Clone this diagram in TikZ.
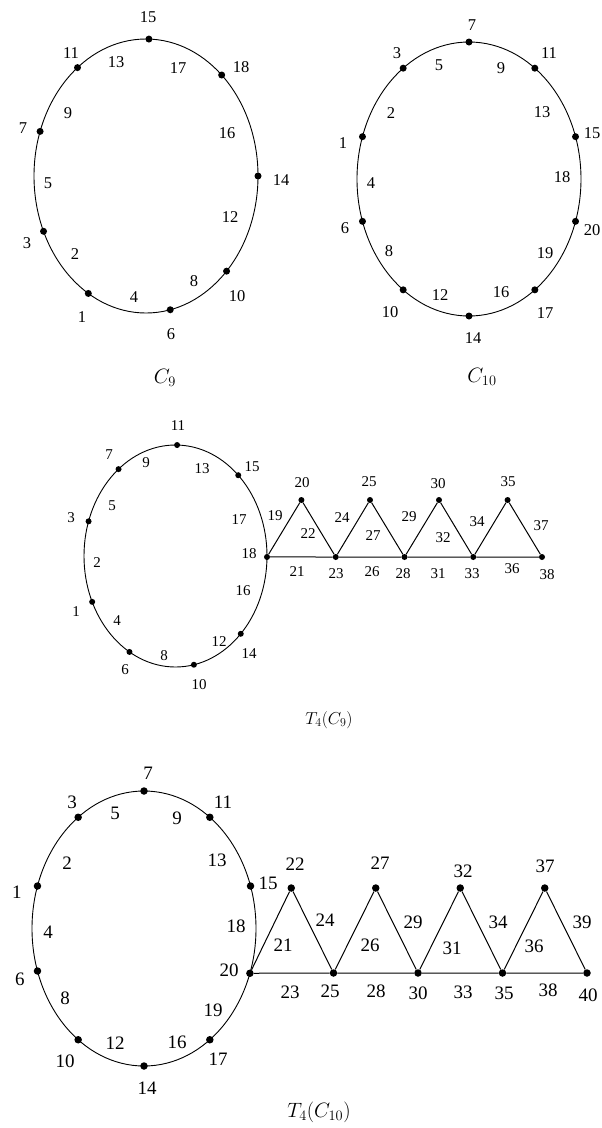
\documentclass[tikz,border=0pt]{standalone}
\usepackage[no-math]{fontspec}
\setmainfont{Liberation Serif}
\begin{document}
\begin{tikzpicture}[x=1pt,y=-1pt,
  cyc/.style={line width=0.9pt},
  edg/.style={line width=1pt},
  dotA/.style={circle,fill=black,inner sep=0pt,minimum size=7pt},
  dotB/.style={circle,fill=black,inner sep=0pt,minimum size=6pt},
  dotC/.style={circle,fill=black,inner sep=0pt,minimum size=7.5pt},
  labA/.style={inner sep=0pt,font=\fontsize{16.5}{16.5}\selectfont},
  labB/.style={inner sep=0pt,font=\fontsize{15}{15}\selectfont},
  labC/.style={inner sep=0pt,font=\fontsize{19}{19}\selectfont},
  capA/.style={inner sep=0pt,font=\fontsize{20}{20}\selectfont},
  capB/.style={inner sep=0pt,font=\fontsize{17}{17}\selectfont},
  capC/.style={inner sep=0pt,font=\fontsize{22}{22}\selectfont}]
\useasboundingbox[fill=white] (0,0) rectangle (602,1128);

% ---------- C9 ----------
\coordinate (c9) at (146,176);
\draw[cyc] (c9) ellipse [x radius=112pt, y radius=137pt];
\foreach \n/\a in {15/88.5,11/127.7,18/47.5,7/161,14/0,3/203.8,10/-44,1/239,6/-77.5}
  \path (c9) ++(\a:112pt and 137pt) node[dotA] (c9v\n) {};
\foreach \t/\x/\y in {15/148/17,11/71/53,13/116/62,17/178/68,18/241/67,9/68/113,7/23/128,16/227/133,5/48/183,14/281/180,12/230/217,3/27/243,2/75/254,8/194/281,10/237/296,4/134/297,1/82/317,6/171/334}
  \node[labA] (c9l\t) at (\x,\y) {\t};
\node[capA] (c9cap) at (165,378) {$C_9$};

% ---------- C10 ----------
\coordinate (c10) at (469,179);
\draw[cyc] (c10) ellipse [x radius=112pt, y radius=137pt];
\foreach \n/\a in {7/90,3/126,1/162,6/198,10/234,14/270,17/306,20/342,15/18,11/54}
  \path (c10) ++(\a:112pt and 137pt) node[dotA] (c10v\n) {};
\foreach \t/\x/\y in {7/472/25,3/397/53,5/439/65,9/501/68,11/549/53,2/391/113,13/542/112,1/343/143,15/592/133,4/371/183,18/562/177,6/345/228,20/592/230,8/389/251,19/545/253,12/440/295,16/501/292,10/390/312,17/545/313,14/473/338}
  \node[labA] (c10l\t) at (\x,\y) {\t};
\node[capA] (c10cap) at (482,377) {$C_{10}$};

% ---------- T4(C9) ----------
\coordinate (t9) at (175.5,556);
\draw[cyc] (t9) ellipse [x radius=91.5pt, y radius=111pt];
\foreach \n/\a in {11/89,7/128.5,15/46.7,3/161.8,18/-0.5,1/204.4,14/-44.5,6/239.8,10/-78.4}
  \path (t9) ++(\a:91.5pt and 111pt) node[dotB] (t9v\n) {};
\foreach \n/\x/\y in {20/301.4/500,23/335.75/557,25/370/500,28/404.5/557,30/439/500,33/473.25/557,35/507.6/500,38/542/557}
  \node[dotB] (t9v\n) at (\x,\y) {};
\draw[edg] (t9v18) -- (t9v20) -- (t9v23) -- (t9v25) -- (t9v28) -- (t9v30) -- (t9v33) -- (t9v35) -- (t9v38);
\draw[edg] (t9v18) -- (t9v23) -- (t9v28) -- (t9v33) -- (t9v38);
\foreach \t/\x/\y in {11/178/426,7/109/455,9/146/463,13/202/469,15/252/467,5/112/506,3/71/518,17/239/520,19/275/516,2/97/563,18/249/554,21/297/572,16/243/591,1/76/612,4/117/621,12/219/642,14/249/654,8/164/656,6/125/670,10/199/685,20/302/483,25/369/482,30/438/484,35/508/482,22/308/534,24/342/518,27/373/536,29/409/517,32/443/538,34/477/522,37/541/526,23/336/574,26/372/572,28/403/574,31/438/574,33/472/574,36/512/569,38/547/575}
  \node[labB] (t9l\t) at (\x,\y) {\t};
\node[capB] (t9cap) at (329,720) {$T_4(C_9)$};

% ---------- T4(C10) ----------
\coordinate (t10) at (144,928.5);
\draw[cyc] (t10) ellipse [x radius=112pt, y radius=137.5pt];
\foreach \n/\a in {7/90,3/126,1/162,6/198,10/234,14/270,17/306,20/-19,15/18,11/54}
  \path (t10) ++(\a:112pt and 137.5pt) node[dotC] (t10v\n) {};
\foreach \n/\x/\y in {22/291.25/888,25/333.5/973,27/375.75/888,30/418/973,32/460.25/888,35/502.5/973,37/544.75/888,40/587/973}
  \node[dotC] (t10v\n) at (\x,\y) {};
\draw[edg] (t10v20) -- (t10v22) -- (t10v25) -- (t10v27) -- (t10v30) -- (t10v32) -- (t10v35) -- (t10v37) -- (t10v40);
\draw[edg] (t10v20) -- (t10v25) -- (t10v30) -- (t10v35) -- (t10v40);
\foreach \t/\x/\y in {7/148/773,3/72/802,5/115/813,9/177/818,11/223/802,2/67/863,13/217/860,1/17/892,15/268/883,22/295/864,27/380/863,32/463/871,37/545/866,4/48/932,18/236/926,21/283/945,24/325/920,29/413/922,34/498/922,39/582/922,26/370/945,31/452/948,36/534/946,6/20/979,20/229/970,23/290/992,25/330/991,28/376/991,30/418/993,33/463/992,35/504/993,38/548/990,40/588/995,8/65/998,19/213/1010,12/115/1043,16/177/1042,10/65/1061,17/218/1059,14/147/1088}
  \node[labC] (t10l\t) at (\x,\y) {\t};
\node[capC] (t10cap) at (319,1112) {$T_4(C_{10})$};
\end{tikzpicture}
\end{document}
